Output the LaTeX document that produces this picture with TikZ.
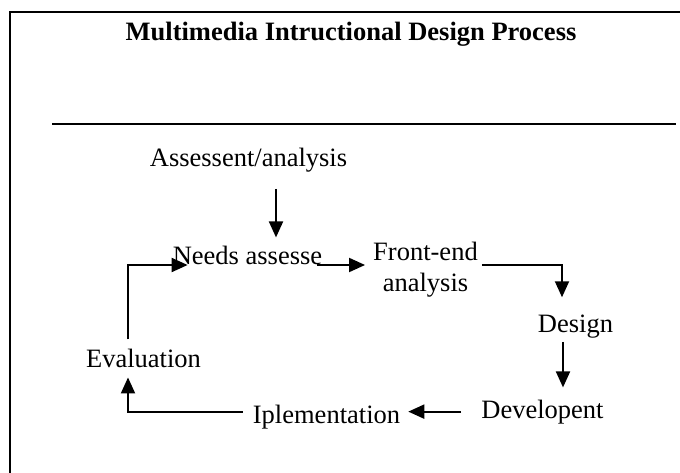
\documentclass[tikz,border=0pt]{standalone}
\usepackage{fontspec}
\setmainfont{Liberation Serif}
\usetikzlibrary{arrows.meta, positioning, calc}

\begin{document}
\begin{tikzpicture}[
    x=1pt, y=-1pt,
    font=\fontsize{26.5}{31}\selectfont,
    step_label/.style={inner sep=0pt, align=center, anchor=base},
    flow/.style={-{Triangle[length=16pt, width=14pt]}, line width=2pt},
    frame_line/.style={line width=2pt}
]
\useasboundingbox (0,0) rectangle (680,473);

% --- Frame and title ---
\draw[frame_line] (10,473) -- (10,12) -- (680,12);
\node[step_label, font=\fontsize{26.5}{31}\selectfont\bfseries] (title) at (351,41) {Multimedia Intructional Design Process};
\coordinate (rule_l) at (52,124);
\coordinate (rule_r) at (676,124);
\draw[frame_line] (rule_l) -- (rule_r);

% --- Process steps ---
\node[step_label] (assess) at (248.5,167) {Assessent/analysis};
\node[step_label] (needs) at (247.5,265) {Needs assesse};
\node[inner sep=0pt, align=center] (front) at (425.5,270) {Front-end\\analysis};
\node[step_label] (design) at (575.5,332) {Design};
\node[step_label] (develop) at (542.5,418) {Developent};
\node[step_label] (implement) at (326.5,423) {Iplementation};
\node[step_label] (eval) at (143.5,367) {Evaluation};

% --- Connectors ---
\draw[flow, shorten <=16pt, shorten >=9pt] ([xshift=27.5pt]assess.south) -- ([xshift=27.5pt]assess.south |- needs.north);
\draw[flow, shorten >=8pt] ([xshift=-5pt]needs.base east) -- (front.west |- needs.base east);
\draw[flow, shorten <=4pt, shorten >=17pt] (front.east |- needs.base east) -| ([xshift=-13.5pt]design.north);
\draw[flow, shorten <=4pt, shorten >=12pt] ([xshift=-12.5pt]design.south) -- ([xshift=-12.5pt]design.south |- develop.north);
\draw[flow, shorten <=20pt, shorten >=8pt] (develop.west) -- (develop.west -| implement.east);
\draw[flow, shorten <=10pt, shorten >=10pt] (implement.west |- develop.west) -| ([xshift=-15.5pt]eval.south);
\draw[flow, shorten <=9pt] ([xshift=-15.5pt]eval.north) |- ([xshift=15pt]needs.base west);

\end{tikzpicture}
\end{document}
